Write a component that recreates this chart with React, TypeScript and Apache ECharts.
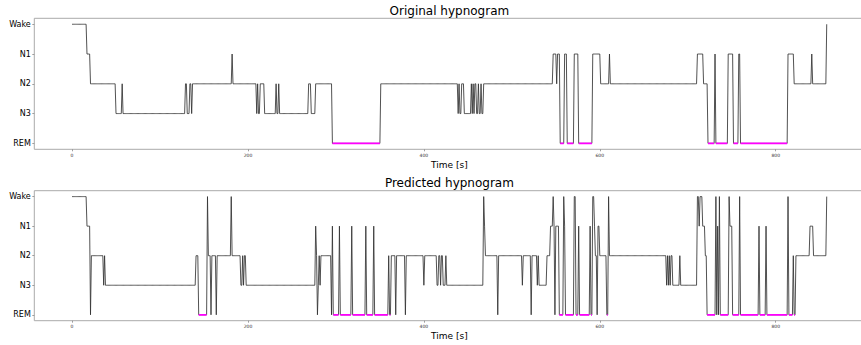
import React, { useEffect, useRef } from "react";
import * as echarts from "echarts";

// Stage order from bottom (0) to top (4)
const STAGE_LABELS = ["REM", "N3", "N2", "N1", "Wake"];
const X_TICKS = [0, 200, 400, 600, 800];
const Y_TICKS = [0, 1, 2, 3, 4];

// Original hypnogram as runs (stage, number of epochs)
const originalStages = [
  "Wake", "N1", "N2", "N3", "N2", "N3", "N2", "N3", "N2", "N3", "N2", "N1", "N2", "N3", "N2", "N3", "N2", "N3", "N2", "N3",
  "N2", "N3", "N2", "N3", "N2", "REM", "N2", "N3", "N2", "N3", "N2", "N3", "N2", "N3", "N2", "N3", "N2", "N3", "N2", "N3",
  "N2", "N3", "N2", "N1", "N2", "N1", "REM", "N1", "REM", "N1", "REM", "N1", "N2", "N1", "N2", "N1", "N2", "REM", "N1", "REM",
  "N1", "REM", "N1", "REM", "N1", "N2", "N1", "N2", "Wake",
];
const originalRuns = [
  17, 4, 29, 7, 1, 71, 2, 3, 2, 1, 45, 1, 27, 1, 1, 2, 5, 13, 1, 2,
  1, 33, 3, 5, 19, 55, 88, 1, 1, 2, 3, 8, 1, 1, 1, 1, 2, 2, 1, 2,
  1, 2, 79, 4, 1, 3, 5, 3, 8, 5, 16, 9, 10, 1, 99, 7, 5, 8, 1, 14,
  6, 6, 2, 54, 7, 20, 1, 16, 1,
];

// Predicted hypnogram as runs (stage, number of epochs)
const predictedStages = [
  "Wake", "N1", "REM", "N2", "N3", "N2", "N3", "N2", "REM", "Wake", "N2", "REM", "N2", "REM", "N2", "Wake", "N2", "N3", "N2", "N3",
  "N2", "N3", "N1", "N2", "REM", "N3", "N2", "N3", "N2", "REM", "N1", "REM", "N1", "REM", "N1", "REM", "N1", "REM", "N1", "REM",
  "N2", "REM", "N2", "REM", "N2", "REM", "N2", "N3", "N2", "N3", "N2", "N3", "N2", "N3", "N2", "N3", "Wake", "N1", "N2", "REM",
  "N2", "N3", "N2", "REM", "N2", "N3", "N2", "N3", "N2", "N1", "Wake", "N1", "REM", "N1", "REM", "Wake", "N1", "REM", "Wake", "REM",
  "N1", "REM", "N1", "REM", "Wake", "N1", "N2", "REM", "N1", "N2", "REM", "Wake", "N2", "N3", "N2", "N3", "N2", "N3", "N2", "N3",
  "N2", "N3", "Wake", "N1", "Wake", "N1", "N2", "REM", "Wake", "REM", "N1", "REM", "Wake", "REM", "Wake", "N1", "REM", "Wake", "REM", "N1",
  "REM", "N1", "REM", "Wake", "REM", "N2", "REM", "N2", "N1", "N2", "Wake",
];
const predictedRuns = [
  17, 4, 1, 14, 1, 1, 103, 3, 10, 1, 3, 1, 5, 1, 16, 1, 10, 2, 1, 1,
  2, 79, 1, 1, 1, 1, 1, 1, 12, 1, 1, 7, 1, 13, 1, 15, 1, 8, 1, 16,
  1, 2, 5, 1, 10, 1, 20, 1, 14, 2, 2, 1, 2, 3, 1, 42, 1, 1, 14, 1,
  27, 1, 9, 1, 6, 1, 1, 9, 4, 3, 1, 1, 1, 4, 5, 1, 1, 10, 2, 3,
  1, 12, 1, 2, 2, 1, 2, 1, 2, 8, 2, 1, 65, 1, 1, 1, 1, 1, 2, 8,
  1, 19, 2, 1, 3, 3, 2, 10, 1, 1, 1, 1, 1, 10, 1, 3, 8, 1, 21, 1,
  7, 1, 24, 1, 5, 1, 2, 16, 4, 15, 1,
];

function expand(stages: string[], runs: number[]): number[] {
  const out: number[] = [];
  stages.forEach((s, k) => {
    const v = STAGE_LABELS.indexOf(s);
    for (let j = 0; j < runs[k]; j++) out.push(v);
  });
  return out;
}

const GRID_LEFT = 34.3;
const PX_PER_UNIT = 0.8796;

export default function App() {
  const ref = useRef<HTMLDivElement>(null);

  useEffect(() => {
    if (!ref.current) return;
    const chart = echarts.init(ref.current, undefined, { renderer: "svg" });

    const orig = expand(originalStages, originalRuns);
    const pred = expand(predictedStages, predictedRuns);
    const n = Math.max(orig.length, pred.length) - 1;
    const xMin = -0.05 * n;
    const xMax = n * 1.05;
    const gridWidth = (xMax - xMin) * PX_PER_UNIT;
    const centerX = GRID_LEFT + gridWidth / 2;

    const mk = (arr: number[]) => arr.map((v, i) => [i, v]);
    const mkRem = (arr: number[]) => arr.map((v, i) => [i, v === 0 ? 0 : null]);

    const xAxisFor = (gi: number) => ({
      type: "value",
      gridIndex: gi,
      min: xMin,
      max: xMax,
      splitLine: { show: false },
      axisLine: { show: false, onZero: false },
      axisTick: { show: true, customValues: X_TICKS, length: 2, lineStyle: { color: "#888", width: 0.8 } },
      axisLabel: { customValues: X_TICKS, fontSize: 4.5, color: "#333", margin: 3.5, fontFamily: "DejaVu Sans" },
      name: "Time [s]",
      nameLocation: "middle",
      nameGap: 11,
      nameTextStyle: { fontSize: 9, color: "#000", fontFamily: "DejaVu Sans" },
    });
    const yAxisFor = (gi: number) => ({
      type: "value",
      gridIndex: gi,
      min: -0.2,
      max: 4.2,
      splitLine: { show: false },
      axisLine: { show: false, onZero: false },
      axisTick: { show: true, customValues: Y_TICKS, length: 2, lineStyle: { color: "#888", width: 0.8 } },
      axisLabel: {
        customValues: Y_TICKS,
        fontSize: 8,
        color: "#000",
        margin: 3.5,
        fontFamily: "DejaVu Sans",
        formatter: (v: number) => STAGE_LABELS[Math.round(v)] ?? "",
      },
    });

    const blackLine = (gi: number, arr: number[]) => ({
      type: "line",
      xAxisIndex: gi,
      yAxisIndex: gi,
      data: mk(arr),
      showSymbol: false,
      symbol: "none",
      lineStyle: { color: "#333333", width: 0.85 },
      z: 2,
    });
    const remLine = (gi: number, arr: number[]) => ({
      type: "line",
      xAxisIndex: gi,
      yAxisIndex: gi,
      data: mkRem(arr),
      showSymbol: false,
      symbol: "none",
      connectNulls: false,
      lineStyle: { color: "#ff00ff", width: 1.8 },
      z: 3,
    });

    chart.setOption({
      animation: false,
      backgroundColor: "#ffffff",
      textStyle: { fontFamily: "DejaVu Sans" },
      title: [
        {
          text: "Original hypnogram",
          left: centerX,
          top: 5,
          textAlign: "center",
          padding: 0,
          textStyle: { fontSize: 12, fontWeight: "normal", color: "#000", fontFamily: "DejaVu Sans" },
        },
        {
          text: "Predicted hypnogram",
          left: centerX,
          top: 177,
          textAlign: "center",
          padding: 0,
          textStyle: { fontSize: 12, fontWeight: "normal", color: "#000", fontFamily: "DejaVu Sans" },
        },
      ],
      grid: [
        { left: GRID_LEFT, top: 18.3, width: gridWidth, height: 131, show: true, borderColor: "#aaa", borderWidth: 1, outerBoundsMode: "none" },
        { left: GRID_LEFT, top: 190.7, width: gridWidth, height: 130, show: true, borderColor: "#aaa", borderWidth: 1, outerBoundsMode: "none" },
      ],
      xAxis: [xAxisFor(0), xAxisFor(1)],
      yAxis: [yAxisFor(0), yAxisFor(1)],
      series: [blackLine(0, orig), remLine(0, orig), blackLine(1, pred), remLine(1, pred)],
    });

    return () => chart.dispose();
  }, []);

  return (
    <div style={{ position: "fixed", left: 0, top: 0, width: 861, height: 345, overflow: "hidden", background: "#fff" }}>
      <div ref={ref} style={{ width: 870, height: 345 }} />
    </div>
  );
}
